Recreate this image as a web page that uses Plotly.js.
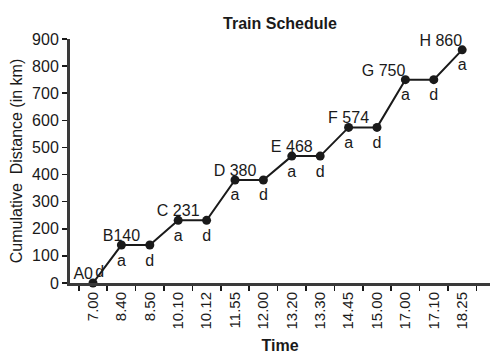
<!DOCTYPE html>
<html>
<head>
<meta charset="utf-8">
<script src="https://cdn.plot.ly/plotly-3.0.1.min.js"></script>
<style>
  html, body { margin: 0; padding: 0; background: #fff; }
  #chart { width: 498px; height: 361px; }
</style>
</head>
<body>
<div id="chart"></div>
<script>
// ---- data ----
const times = ["7.00", "8.40", "8.50", "10.10", "10.12", "11.55", "12.00",
               "13.20", "13.30", "14.45", "15.00", "17.00", "17.10", "18.25"];
const distance = [0, 140, 140, 231, 231, 380, 380, 468, 468, 574, 574, 750, 750, 860];
const stationLabels = ["A0", "B140", "", "C 231", "", "D 380", "", "E 468", "",
                       "F 574", "", "G 750", "", "H 860"];
const eventLabels = ["d", "a", "d", "a", "d", "a", "d", "a", "d", "a", "d", "a", "d", "a"];

// ---- styles ----
const stationPos = ["top left", "top center", "top center", "top center", "top center",
                    "top center", "top center", "top center", "top center", "top center",
                    "top center", "top left", "top center", "top left"];
const eventPos = ["top right", "bottom center", "bottom center", "bottom center", "bottom center",
                  "bottom center", "bottom center", "bottom center", "bottom center", "bottom center",
                  "bottom center", "bottom center", "bottom center", "bottom center"];
const eventPad = [2, 12, 12, 12, 12, 12, 12, 12, 12, 12, 12, 12, 12, 12];

const FONT = "Liberation Sans, Arial, Helvetica, sans-serif";
const INK = "#1a1a1a";

const traces = [
  {
    x: times, y: distance, type: "scatter", mode: "lines+markers",
    line: { color: INK, width: 2 },
    marker: { color: INK, size: 9 },
    cliponaxis: false, hoverinfo: "skip", showlegend: false
  },
  {
    x: times, y: distance, type: "scatter", mode: "text",
    text: stationLabels, textposition: stationPos,
    textfont: { family: FONT, size: 16, color: INK },
    cliponaxis: false, hoverinfo: "skip", showlegend: false
  },
  {
    x: times, y: distance, type: "scatter", mode: "markers+text",
    marker: { size: eventPad, opacity: 0 },
    text: eventLabels, textposition: eventPos,
    textfont: { family: FONT, size: 16, color: INK },
    cliponaxis: false, hoverinfo: "skip", showlegend: false
  }
];

const layout = {
  width: 498, height: 361,
  margin: { l: 70, r: 8, t: 39, b: 78 },
  paper_bgcolor: "#fff", plot_bgcolor: "#fff",
  font: { family: FONT, color: INK },
  title: {
    text: "<b>Train Schedule</b>",
    font: { family: FONT, size: 16, color: INK },
    x: 0.5, xref: "paper", xanchor: "center",
    y: 1 - 23 / 361, yref: "container", yanchor: "middle"
  },
  xaxis: {
    type: "category",
    categoryorder: "array", categoryarray: times,
    range: [-0.81, 13.98],
    tickson: "boundaries",
    ticks: "outside", ticklen: 5, tickwidth: 1.5, tickcolor: INK,
    tickangle: -90,
    tickfont: { family: FONT, size: 15, color: INK },
    showline: true, linecolor: "#3a3a3a", linewidth: 3,
    showgrid: false, zeroline: false,
    title: { text: "<b>Time</b>", font: { family: FONT, size: 16, color: INK }, standoff: 12 }
  },
  yaxis: {
    range: [0, 900],
    tickmode: "linear", tick0: 0, dtick: 100,
    ticks: "outside", ticklen: 5, tickwidth: 1.5, tickcolor: INK,
    tickfont: { family: FONT, size: 16, color: INK },
    showline: true, linecolor: "#3a3a3a", linewidth: 3,
    showgrid: false, zeroline: false,
    title: { text: "Cumulative  Distance (in km)", font: { family: FONT, size: 16, color: INK }, standoff: 6 }
  }
};

Plotly.newPlot("chart", traces, layout, { displayModeBar: false, staticPlot: true });
</script>
</body>
</html>
